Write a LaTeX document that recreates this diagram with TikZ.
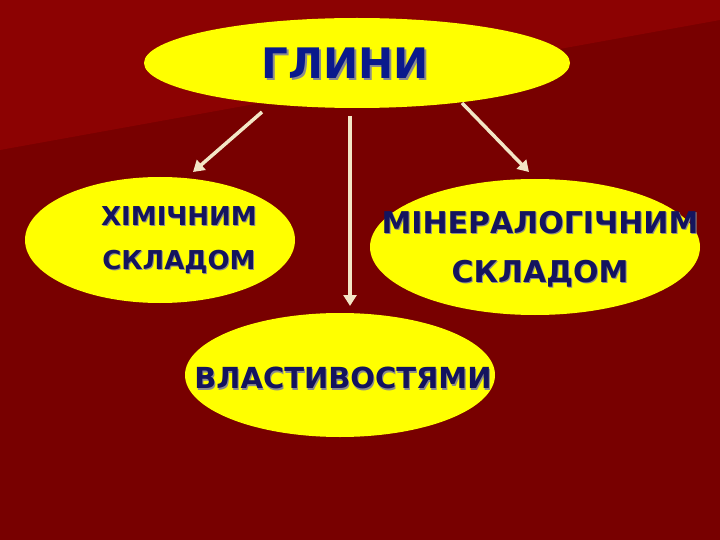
\documentclass[tikz,border=0pt]{standalone}
\usepackage{fontspec}
\setmainfont{DejaVu Sans}
\usetikzlibrary{arrows.meta,shapes.geometric}
\definecolor{bgdark}{HTML}{780000}
\definecolor{bglight}{HTML}{8C0202}
\definecolor{ylw}{HTML}{FFFF00}
\definecolor{navy}{HTML}{0A1A8C}
\definecolor{dnavy}{HTML}{14145E}
\definecolor{cream}{HTML}{F3E6C6}
\tikzset{
  oval/.style={ellipse, fill=ylw, inner sep=0pt},
  lbl/.style={text=navy, align=center},
  shd/.style={text=black!45, align=center},
  arr/.style={draw=cream, line width=3.5pt, -{Triangle[length=11pt,width=13pt]}}
}
\begin{document}
\begin{tikzpicture}[x=1pt,y=-1pt]
\fill[bgdark] (0,0) rectangle (720,540);
\fill[bglight] (0,0) -- (720,0) -- (720,20) -- (0,150) -- cycle;
\useasboundingbox (0,0) rectangle (720,540);
\node[oval, minimum width=426pt, minimum height=90pt] (top) at (357,63) {};
\node[oval, minimum width=270pt, minimum height=126pt] (left) at (160,240) {};
\node[oval, minimum width=330pt, minimum height=136pt] (right) at (535,247) {};
\node[oval, minimum width=310pt, minimum height=124pt] (bot) at (340,375) {};
\coordinate (a1) at (262,112); \coordinate (a2) at (193,172);
\coordinate (b1) at (350,116); \coordinate (b2) at (350,306);
\coordinate (c1) at (462,103); \coordinate (c2) at (529,172);
\draw[arr] (a1) -- (a2);
\draw[arr] (b1) -- (b2);
\draw[arr] (c1) -- (c2);
% top
\node[shd, font=\bfseries\fontsize{42}{44}\selectfont] (ts) at (347.5,65.5) {ГЛИНИ};
\node[lbl, font=\bfseries\fontsize{42}{44}\selectfont] (tt) at (345,63) {ГЛИНИ};
% left
\node[shd, font=\bfseries\fontsize{26}{44}\selectfont] (ls) at (180,241.5) {ХІМІЧНИМ\\СКЛАДОМ};
\node[lbl, text=dnavy, font=\bfseries\fontsize{26}{44}\selectfont] (lt) at (179,240) {ХІМІЧНИМ\\СКЛАДОМ};
% right
\node[shd, font=\bfseries\fontsize{30}{49}\selectfont] (rs) at (541,250.5) {МІНЕРАЛОГІЧНИМ\\СКЛАДОМ};
\node[lbl, text=dnavy, font=\bfseries\fontsize{30}{49}\selectfont] (rt) at (540,249) {МІНЕРАЛОГІЧНИМ\\СКЛАДОМ};
% bottom
\node[shd, font=\bfseries\fontsize{29}{30}\selectfont] (bs) at (344,379.5) {ВЛАСТИВОСТЯМИ};
\node[lbl, text=dnavy, font=\bfseries\fontsize{29}{30}\selectfont] (bt) at (343,378) {ВЛАСТИВОСТЯМИ};
\end{tikzpicture}
\end{document}
